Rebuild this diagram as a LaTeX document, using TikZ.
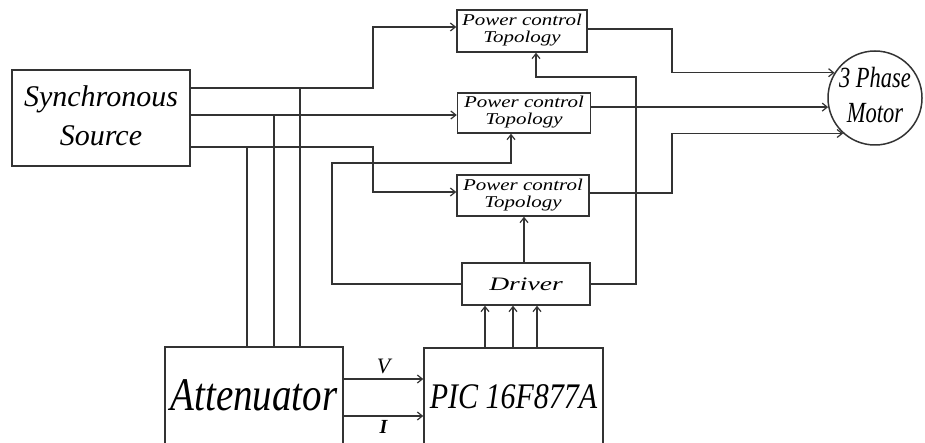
\documentclass[tikz,border=0pt]{standalone}
\usepackage{fontspec}
\setmainfont{Liberation Serif}
\usepackage{graphicx}
\usetikzlibrary{arrows.meta}
\definecolor{ln}{HTML}{333333}
\newcommand{\pctext}{\scalebox{1.27}[1]{\fontsize{16.5}{17}\selectfont\begin{tabular}{@{}c@{}}Power control\\Topology\end{tabular}}}
\begin{document}
\begin{tikzpicture}[x=1pt,y=-1pt,
  box/.style={draw=ln,line width=1.5pt,rectangle,inner sep=0pt,font=\itshape,align=center},
  wire/.style={draw=ln,line width=1.5pt},
  arr/.style={wire,-{Straight Barb[length=5pt,width=8pt,line width=1.2pt]}}]
\useasboundingbox (0,0) rectangle (925,443);
\clip (0,0) rectangle (925,443);

% boxes
\node[box,minimum width=178pt,minimum height=96pt] (src) at (101,118)
  {\fontsize{30}{39}\selectfont\begin{tabular}{@{}c@{}}Synchronous\\Source\end{tabular}};
\node[box,minimum width=130pt,minimum height=42pt] (pct1) at (522,31) {\pctext};
\node[box,minimum width=133pt,minimum height=40pt] (pct2) at (524,113) {\pctext};
\node[box,minimum width=132pt,minimum height=41pt] (pct3) at (523,195.5) {\pctext};
\node[box,minimum width=128pt,minimum height=42pt] (drv) at (526,284)
  {\scalebox{1.45}[1]{\fontsize{19}{19}\selectfont Driver}};
\node[box,minimum width=178pt,minimum height=100pt] (att) at (254,397)
  {\raisebox{3pt}{\scalebox{1}[1.2]{\fontsize{39}{39}\selectfont Attenuator}}};
\node[box,minimum width=179pt,minimum height=98pt] (pic) at (513.5,397)
  {\scalebox{1}[1.2]{\fontsize{30}{30}\selectfont PIC 16F877A}};
\node[box,circle,minimum size=94pt,inner sep=-12pt] (motor) at (875,98)
  {\scalebox{1}[1.3]{\fontsize{22.5}{27}\selectfont\begin{tabular}{@{}c@{}}3 Phase\\Motor\end{tabular}}};

% source outputs
\draw[arr] (src.east |- 0,88) -- (373,88) -- (373,27) -- (pct1.west |- 0,27);
\draw[arr] (src.east |- 0,115) -- (pct2.west |- 0,115);
\draw[arr] (src.east |- 0,147) -- (373,147) -- (373,192) -- (pct3.west |- 0,192);
% taps to attenuator
\draw[wire] (300,88) -- (att.north -| 300,0);
\draw[wire] (274,115) -- (att.north -| 274,0);
\draw[wire] (247,147) -- (att.north -| 247,0);

% driver feedback
\draw[arr] (drv.west) -- (332,284) -- (332,163) -- (511,163) -- (pct2.south -| 511,0);
\draw[arr] (drv.east) -- (636,284) -- (636,77) -- (536,77) -- (pct1.south -| 536,0);
\draw[arr] (drv.north -| 524,0) -- (pct3.south -| 524,0);

% pic to driver
\draw[arr] (pic.north -| 485,0) -- (drv.south -| 485,0);
\draw[arr] (pic.north -| 513,0) -- (drv.south -| 513,0);
\draw[arr] (pic.north -| 537,0) -- (drv.south -| 537,0);

% attenuator to pic
\draw[arr] (att.east |- 0,379) -- node[above=1pt,font=\itshape\fontsize{22}{22}\selectfont] {V} (pic.west |- 0,379);
\draw[arr] (att.east |- 0,416) -- node[below=0pt,font=\bfseries\itshape\fontsize{20}{20}\selectfont] {I} (pic.west |- 0,416);

% outputs to motor
\draw[arr] (pct1.east |- 0,29) -- (672,29) -- (672,0 |- motor.148) -- (motor.148);
\draw[arr] (pct2.east |- motor.191) -- (motor.191);
\draw[arr] (pct3.east |- 0,193) -- (672,193) -- (672,0 |- motor.228) -- (motor.228);
\end{tikzpicture}
\end{document}
